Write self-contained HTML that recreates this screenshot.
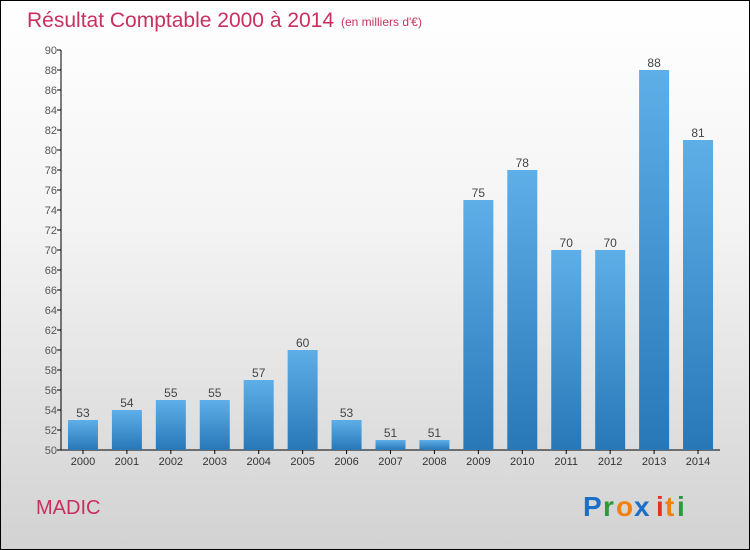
<!DOCTYPE html>
<html><head><meta charset="utf-8"><style>
body{margin:0}
#c{width:750px;height:550px;position:relative;box-sizing:border-box;border:1px solid #000;background:linear-gradient(#ffffff 0%,#f4f4f4 40%,#d2d2d2 100%);font-family:"Liberation Sans",sans-serif;overflow:hidden}
</style></head><body>
<div id="c">
<svg width="750" height="550" style="position:absolute;left:-1px;top:-1px" id="svg">
<defs><linearGradient id="bg" x1="0" y1="0" x2="0" y2="1"><stop offset="0" stop-color="#5eaee8"/><stop offset="1" stop-color="#2878b8"/></linearGradient></defs>
<text x="27" y="27" font-size="21" fill="#c8305f">Résultat Comptable 2000 à 2014</text>
<text x="341" y="26" font-size="12" fill="#c8305f">(en milliers d'€)</text>
<g id="axes"></g><g id="bars"></g>
<text x="36" y="514" font-size="20" fill="#c8305f">MADIC</text>
<g font-size="28" font-weight="bold">
<text x="583" y="516" fill="#1a6fc8">P</text><text x="603" y="516" fill="#2a9a3a">r</text><text x="616" y="516" fill="#f08010">o</text><text x="634" y="516" fill="#1a6fc8">x</text><text x="656" y="516" fill="#e83020">i</text><text x="665" y="516" fill="#f08010">t</text><text x="677" y="516" fill="#2a9a3a">i</text>
</g>
</svg>
</div>
<script>
const years=["2000","2001","2002","2003","2004","2005","2006","2007","2008","2009","2010","2011","2012","2013","2014"];
const values=[53,54,55,55,57,60,53,51,51,75,78,70,70,88,81];
const yTicks=[50,52,54,56,58,60,62,64,66,68,70,72,74,76,78,80,82,84,86,88,90];
const NS="http://www.w3.org/2000/svg";
const x0=61,x1=720,yMin=50,yMax=90,yTop=50,yBot=450;
const band=(x1-x0)/years.length;
const yS=v=>yBot-(v-yMin)/(yMax-yMin)*(yBot-yTop);
const xC=i=>x0+band*(i+0.5);
function mk(t,a,p){const e=document.createElementNS(NS,t);for(const k in a)e.setAttribute(k,a[k]);p.appendChild(e);return e;}
const ax=document.getElementById('axes'),bs=document.getElementById('bars');
const yl=mk('line',{x1:x0,y1:yTop,x2:x0,y2:yBot,stroke:'#000'},ax);


const xl=mk('line',{x1:x0,y1:yBot,x2:x1,y2:yBot,stroke:'#000'},ax);


yTicks.forEach(v=>{
 mk('line',{x1:x0-4,y1:yS(v),x2:x0,y2:yS(v),stroke:'#000'},ax);
 const t=mk('text',{x:x0-4,y:yS(v)+4,'font-size':11,fill:'#555','text-anchor':'end'},ax);
 t.textContent=v;
 
 
});
years.forEach((y,i)=>{
 const c=xC(i);
 mk('line',{x1:c,y1:yBot,x2:c,y2:yBot+4,stroke:'#000'},ax);
 const t=mk('text',{x:c,y:465,'font-size':11,fill:'#333','text-anchor':'middle'},ax);
 t.textContent=y;
 
 
 const r=mk('rect',{x:c-15,y:yS(values[i]),width:30,height:yBot-yS(values[i]),fill:'url(#bg)'},bs);
 
 
 const l=mk('text',{x:c,y:yS(values[i])-3,'font-size':12,fill:'#444','text-anchor':'middle'},bs);
 l.textContent=values[i];
 
 
});
</script>
</body></html>
